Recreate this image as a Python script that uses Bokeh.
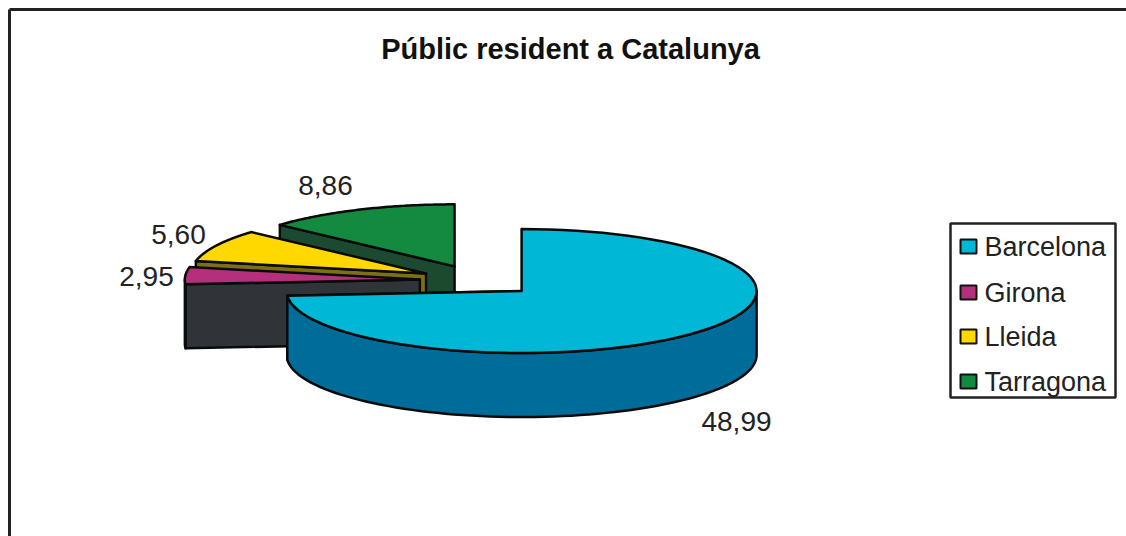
import numpy as np
from bokeh.plotting import figure
from bokeh.models import ColumnDataSource
from bokeh.core.properties import value
from bokeh.embed import file_html
from bokeh.resources import INLINE

categories = ["Barcelona", "Girona", "Lleida", "Tarragona"]
values = [48.99, 2.95, 5.60, 8.86]
value_labels = ["48,99", "2,95", "5,60", "8,86"]
title_text = "Públic resident a Catalunya"

top_colors = ["#00b8d6", "#b5307c", "#ffd800", "#148a40"]
side_colors = ["#006c9a", "#303338", "#7d7012", "#1c4a30"]

W, H = 1126, 536
OX, OY = 0, 0
CX0, CY0 = 478, 280
RX, RY = 235, 62
DEPTH = 64
EXPLODE = 0.25
FONT = "Liberation Sans"

p = figure(width=W, height=H, x_range=(OX, OX + W), y_range=(OY + H, OY),
           output_backend="svg", toolbar_location=None, min_border=0,
           x_axis_type="linear", y_axis_type="linear")
p.axis.visible = False
p.grid.visible = False
p.outline_line_color = None
p.background_fill_color = "white"

# chart frame
p.line([9, 9], [OY + H, 9], line_color="#222222", line_width=3)
p.line([9, OX + W], [9, 9], line_color="#222222", line_width=3)

p.text([570], [48], text=[title_text], text_font=value(FONT), text_font_style="bold",
       text_font_size="29px", text_align="center", text_baseline="middle", text_color="#111111")


def rim(cx, cy, a, b, n=80):
    t = np.radians(np.linspace(a, b, n))
    return cx + RX * np.sin(t), cy - RY * np.cos(t)


total = sum(values)
spans = np.array(values) / total * 360
ends = np.cumsum(spans)
starts = ends - spans
mids = np.radians((starts + ends) / 2)
centers = [(CX0 + EXPLODE * RX * np.sin(m), CY0 - EXPLODE * RY * np.cos(m)) for m in mids]
outline = dict(line_color="#0a0a0a", line_width=2.5, line_join="round")

# painter's order: back wedges first, Barcelona last
for i in [3, 2, 1, 0]:
    cx, cy = centers[i]
    a, b = starts[i], ends[i]
    xa, ya = rim(cx, cy, a, a, 1)
    xb, yb = rim(cx, cy, b, b, 1)
    # radial cut faces that look toward the viewer
    if i == 0:
        rx = [cx, xb[0], xb[0], cx]
        ry = [cy, yb[0], yb[0] + DEPTH, cy + DEPTH]
    else:
        rx = [cx, xa[0], xa[0], cx]
        ry = [cy, ya[0], ya[0] + DEPTH, cy + DEPTH]
    p.patch(rx, ry, fill_color=side_colors[i], **outline)
    # outer wall, visible on the front half of the ellipse
    lo, hi = max(a, 90), min(b, 270)
    if lo < hi:
        wx, wy = rim(cx, cy, lo, hi)
        p.patch(np.r_[wx, wx[::-1]], np.r_[wy, wy[::-1] + DEPTH],
                fill_color=side_colors[i], **outline)
    # top face
    tx, ty = rim(cx, cy, a, b)
    p.patch(np.r_[cx, tx], np.r_[cy, ty], fill_color=top_colors[i], **outline)

# value labels
label_x = [736, 146, 178, 325]
label_y = [421, 276, 234, 185]
p.text(label_x, label_y, text=value_labels, text_font=value(FONT), text_font_size="28px",
       text_align="center", text_baseline="middle", text_color="#222222")

# legend
p.quad(left=[950], right=[1115], top=[223], bottom=[397], fill_color="white",
       line_color="#222222", line_width=2.5)
leg_y = [246, 292, 336, 381]
src = ColumnDataSource(dict(x=[968] * 4, y=leg_y, c=top_colors, t=categories, tx=[984] * 4))
p.rect("x", "y", width=16, height=14, source=src, fill_color="c", line_color="#111111", line_width=2)
p.text("tx", "y", text="t", source=src, text_font=value(FONT), text_font_size="27px",
       text_align="left", text_baseline="middle", text_color="#222222")

open("out.html", "w").write(file_html(p, INLINE))
